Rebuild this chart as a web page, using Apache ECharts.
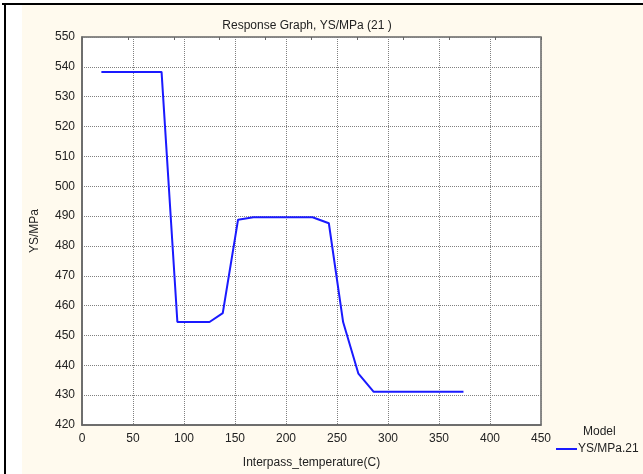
<!DOCTYPE html>
<html>
<head>
<meta charset="utf-8">
<script src="https://cdn.jsdelivr.net/npm/echarts@6/dist/echarts.min.js"></script>
<style>
html,body{margin:0;padding:0;background:#fffaee;}
#c{width:643px;height:474px;}
</style>
</head>
<body>
<div id="c"></div>
<script>
var xValues = [19, 78, 93.5, 125, 138, 153, 168, 226, 242, 256, 271, 286, 374];
var ysValues = [538.3, 538.3, 454.5, 454.5, 457.5, 488.8, 489.6, 489.6, 487.6, 454.5, 437.2, 431.1, 431.1];
var seriesName = 'YS/MPa.21';
var titleText = 'Response Graph, YS/MPa (21 )';
var xName = 'Interpass_temperature(C)';
var yName = 'YS/MPa';

var chart = echarts.init(document.getElementById('c'), null, {renderer: 'canvas'});
var font = 'Liberation Sans, Arial, sans-serif';
var data = xValues.map(function (x, i) { return [x, ysValues[i]]; });

chart.setOption({
  backgroundColor: '#fffaee',
  animation: false,
  textStyle: {fontFamily: font},
  title: {
    text: titleText,
    left: 302, top: 15, textAlign: 'center',
    textStyle: {fontSize: 12, fontWeight: 'normal', color: '#222', fontFamily: font}
  },
  graphic: [
    {type: 'rect', left: 0, top: 0, shape: {width: 22, height: 474}, style: {fill: '#ffffff'}, z: -1},
    {type: 'rect', left: 0, top: 0, shape: {width: 643, height: 3}, style: {fill: '#ffffff'}, z: -1},
    {type: 'rect', left: 2, top: 3, shape: {width: 641, height: 2}, style: {fill: '#000000'}},
    {type: 'rect', left: 4, top: 3, shape: {width: 2, height: 471}, style: {fill: '#000000'}},
    {type: 'text', left: 583, top: 426, style: {text: 'Model', fontSize: 12, fill: '#222', font: '12px ' + font}}
  ],
  legend: {
    data: [{name: seriesName, icon: 'rect'}],
    left: 556, top: 443,
    itemWidth: 21, itemHeight: 2, itemGap: 0, padding: 0,
    textStyle: {fontSize: 12, color: '#222', fontFamily: font, padding: [0, 0, 0, -4]}
  },
  grid: {
    left: 82, right: 102, top: 37, bottom: 47,
    show: true, backgroundColor: '#ffffff', borderColor: '#666666', borderWidth: 1.5
  },
  xAxis: [{
    type: 'value', min: 0, max: 450, interval: 50,
    name: xName, nameLocation: 'middle', nameGap: 32,
    nameTextStyle: {fontSize: 12, color: '#222', fontFamily: font},
    axisLine: {show: true, lineStyle: {color: '#666666', width: 1.5}},
    axisTick: {show: false},
    axisLabel: {fontSize: 12, color: '#222', margin: 8, fontFamily: font},
    splitLine: {show: true, lineStyle: {type: [1, 1], color: '#808080', width: 1}}
  }, {
    type: 'value', min: 0, max: 450, interval: 45, position: 'top',
    axisLine: {show: false},
    axisTick: {show: true, inside: true, length: 3, lineStyle: {color: '#666666'}},
    axisLabel: {show: false},
    splitLine: {show: false}
  }],
  yAxis: {
    type: 'value', min: 420, max: 550, interval: 10,
    name: yName, nameLocation: 'middle', nameGap: 41, nameRotate: 90,
    nameTextStyle: {fontSize: 12, color: '#222', fontFamily: font},
    axisLine: {show: true, lineStyle: {color: '#666666', width: 1.5}},
    axisTick: {show: false},
    axisLabel: {fontSize: 12, color: '#222', margin: 7, fontFamily: font},
    splitLine: {show: true, lineStyle: {type: [1, 1], color: '#808080', width: 1}}
  },
  series: [{
    name: seriesName,
    type: 'line',
    xAxisIndex: 0,
    data: data,
    showSymbol: false,
    symbol: 'none',
    lineStyle: {color: '#1a1aff', width: 2},
    itemStyle: {color: '#1a1aff'}
  }]
});
</script>
</body>
</html>
